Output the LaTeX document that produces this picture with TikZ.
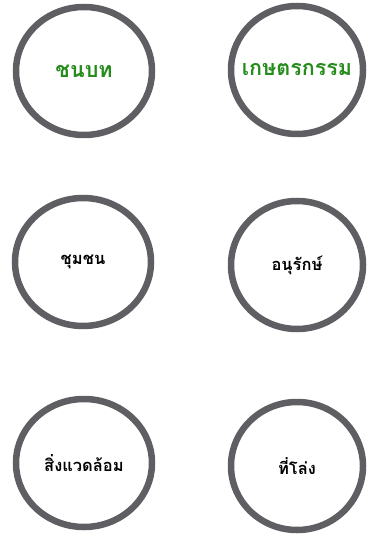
\documentclass[tikz,border=0pt]{standalone}
\usepackage{fontspec}
\newfontfamily\thaifont[Script=Thai]{Loma}
\usetikzlibrary{shapes.geometric}
\definecolor{ringgray}{RGB}{95,95,99}
\definecolor{leafgreen}{RGB}{38,140,28}

\begin{document}
\begin{tikzpicture}[x=1pt,y=-1pt,
    ring/.style={draw=ringgray, line width=6.5pt, ellipse, inner sep=0pt, minimum height=128pt},
    wide/.style={minimum width=136pt}, narrow/.style={minimum width=132pt},
    word/.style={font=\thaifont\bfseries\fontsize{16.5}{20}\selectfont},
    greenword/.style={font=\thaifont\bfseries\fontsize{21.5}{24}\selectfont, text=leafgreen}]
    \useasboundingbox (0,0) rectangle (366,534);
    % top row
    \node[ring, wide, label={[greenword]center:ชนบท}] (rural) at (84,71) {};
    \node[ring, narrow, label={[greenword]center:เกษตรกรรม}] (farm) at (297,70) {};
    % middle row
    \node[ring, wide, label={[word]center:ชุมชน}] (community) at (83,262) {};
    \node[ring, narrow, label={[word]center:อนุรักษ์}] (conserve) at (297,265) {};
    % bottom row
    \node[ring, wide, label={[word]center:สิ่งแวดล้อม}] (surround) at (84,463) {};
    \node[ring, narrow, label={[word]center:ที่โล่ง}] (clearing) at (297,466) {};
\end{tikzpicture}
\end{document}
